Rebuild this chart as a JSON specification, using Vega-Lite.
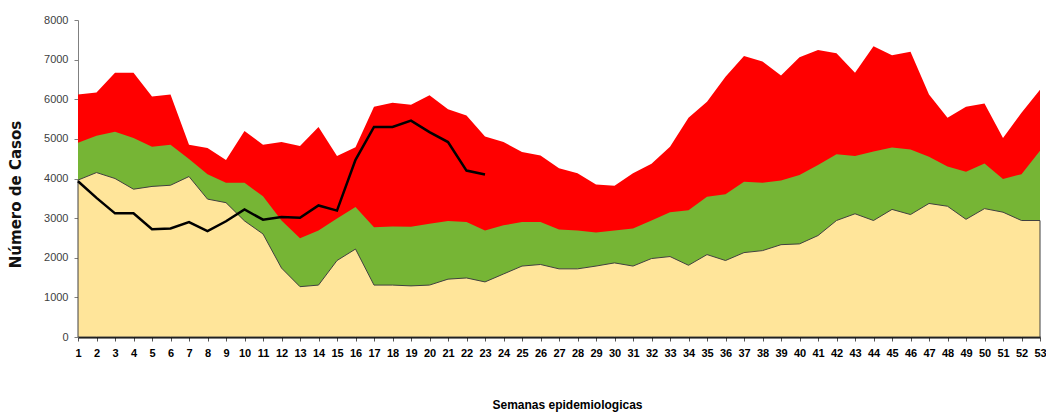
{
  "$schema": "https://vega.github.io/schema/vega-lite/v6.json",
  "width": 962,
  "height": 317,
  "autosize": {"type": "none"},
  "padding": {"left": 78, "top": 20, "right": 6, "bottom": 80},
  "background": "white",
  "config": {
    "view": {"stroke": null},
    "axisY": {
      "labelOverlap": false,
      "grid": false,
      "domainColor": "#808080", "domainWidth": 1,
      "tickColor": "#808080", "tickSize": 4,
      "labelFont": "Liberation Sans", "labelFontSize": 11, "labelColor": "#404040", "labelPadding": 6,
      "titleFont": "DejaVu Sans", "titleFontWeight": "bold", "titleFontSize": 15, "titleColor": "#111111",
      "titleX": -63, "titleY": 174, "titleAngle": -90, "titleAlign": "center", "titleBaseline": "middle"
    }
  },
  "data": {"values": [
    {"week": 1, "q1": 3960, "med": 4900, "q3": 6120, "cases": 3930},
    {"week": 2, "q1": 4150, "med": 5080, "q3": 6170, "cases": 3510},
    {"week": 3, "q1": 4000, "med": 5180, "q3": 6670, "cases": 3120},
    {"week": 4, "q1": 3730, "med": 5020, "q3": 6670, "cases": 3120},
    {"week": 5, "q1": 3800, "med": 4800, "q3": 6070, "cases": 2720},
    {"week": 6, "q1": 3830, "med": 4850, "q3": 6120, "cases": 2740},
    {"week": 7, "q1": 4050, "med": 4490, "q3": 4850, "cases": 2900},
    {"week": 8, "q1": 3480, "med": 4110, "q3": 4770, "cases": 2670},
    {"week": 9, "q1": 3390, "med": 3890, "q3": 4470, "cases": 2920},
    {"week": 10, "q1": 2930, "med": 3890, "q3": 5200, "cases": 3220},
    {"week": 11, "q1": 2600, "med": 3550, "q3": 4850, "cases": 2960},
    {"week": 12, "q1": 1740, "med": 2940, "q3": 4920, "cases": 3030},
    {"week": 13, "q1": 1270, "med": 2490, "q3": 4820, "cases": 3010},
    {"week": 14, "q1": 1310, "med": 2690, "q3": 5300, "cases": 3320},
    {"week": 15, "q1": 1930, "med": 2990, "q3": 4570, "cases": 3190},
    {"week": 16, "q1": 2220, "med": 3280, "q3": 4790, "cases": 4470},
    {"week": 17, "q1": 1310, "med": 2770, "q3": 5810, "cases": 5300},
    {"week": 18, "q1": 1310, "med": 2790, "q3": 5910, "cases": 5300},
    {"week": 19, "q1": 1290, "med": 2780, "q3": 5860, "cases": 5460},
    {"week": 20, "q1": 1310, "med": 2860, "q3": 6100, "cases": 5170},
    {"week": 21, "q1": 1460, "med": 2930, "q3": 5750, "cases": 4920},
    {"week": 22, "q1": 1490, "med": 2900, "q3": 5590, "cases": 4200},
    {"week": 23, "q1": 1390, "med": 2690, "q3": 5060, "cases": 4100},
    {"week": 24, "q1": 1590, "med": 2820, "q3": 4920, "cases": null},
    {"week": 25, "q1": 1790, "med": 2900, "q3": 4670, "cases": null},
    {"week": 26, "q1": 1830, "med": 2900, "q3": 4580, "cases": null},
    {"week": 27, "q1": 1720, "med": 2710, "q3": 4260, "cases": null},
    {"week": 28, "q1": 1720, "med": 2690, "q3": 4130, "cases": null},
    {"week": 29, "q1": 1790, "med": 2640, "q3": 3850, "cases": null},
    {"week": 30, "q1": 1870, "med": 2690, "q3": 3820, "cases": null},
    {"week": 31, "q1": 1790, "med": 2740, "q3": 4130, "cases": null},
    {"week": 32, "q1": 1980, "med": 2940, "q3": 4370, "cases": null},
    {"week": 33, "q1": 2030, "med": 3150, "q3": 4800, "cases": null},
    {"week": 34, "q1": 1810, "med": 3200, "q3": 5530, "cases": null},
    {"week": 35, "q1": 2080, "med": 3540, "q3": 5940, "cases": null},
    {"week": 36, "q1": 1930, "med": 3600, "q3": 6570, "cases": null},
    {"week": 37, "q1": 2130, "med": 3920, "q3": 7090, "cases": null},
    {"week": 38, "q1": 2180, "med": 3890, "q3": 6950, "cases": null},
    {"week": 39, "q1": 2330, "med": 3950, "q3": 6600, "cases": null},
    {"week": 40, "q1": 2350, "med": 4090, "q3": 7060, "cases": null},
    {"week": 41, "q1": 2560, "med": 4340, "q3": 7240, "cases": null},
    {"week": 42, "q1": 2940, "med": 4610, "q3": 7160, "cases": null},
    {"week": 43, "q1": 3110, "med": 4570, "q3": 6670, "cases": null},
    {"week": 44, "q1": 2940, "med": 4680, "q3": 7340, "cases": null},
    {"week": 45, "q1": 3220, "med": 4780, "q3": 7110, "cases": null},
    {"week": 46, "q1": 3090, "med": 4730, "q3": 7200, "cases": null},
    {"week": 47, "q1": 3370, "med": 4550, "q3": 6120, "cases": null},
    {"week": 48, "q1": 3300, "med": 4300, "q3": 5530, "cases": null},
    {"week": 49, "q1": 2970, "med": 4170, "q3": 5810, "cases": null},
    {"week": 50, "q1": 3240, "med": 4380, "q3": 5890, "cases": null},
    {"week": 51, "q1": 3150, "med": 3990, "q3": 5020, "cases": null},
    {"week": 52, "q1": 2940, "med": 4110, "q3": 5660, "cases": null},
    {"week": 53, "q1": 2940, "med": 4700, "q3": 6240, "cases": null}
  ]},
  "encoding": {
    "x": {
      "field": "week", "type": "quantitative",
      "scale": {"domain": [1, 53], "nice": false, "zero": false},
      "axis": {
        "title": "Semanas epidemiologicas",
        "values": [1,2,3,4,5,6,7,8,9,10,11,12,13,14,15,16,17,18,19,20,21,22,23,24,25,26,27,28,29,30,31,32,33,34,35,36,37,38,39,40,41,42,43,44,45,46,47,48,49,50,51,52,53],
        "format": "d",
        "grid": false,
        "domainColor": "#000000", "domainWidth": 2,
        "tickColor": "#555555", "tickSize": 4,
        "labelFont": "Liberation Sans", "labelFontWeight": "bold", "labelFontSize": 11, "labelColor": "#000000",
        "labelPadding": 6, "labelFlush": false, "labelOverlap": false,
        "titleFont": "Liberation Sans", "titleFontWeight": "bold", "titleFontSize": 12, "titleColor": "#000000",
        "titleX": 489, "titleY": 62, "titleBaseline": "top"
      }
    }
  },
  "layer": [
    {
      "mark": {"type": "area", "color": "#FF0000", "opacity": 1},
      "encoding": {
        "y": {
          "field": "q3", "type": "quantitative",
          "scale": {"domain": [0, 8000], "nice": false},
          "axis": {"title": "Número de Casos", "values": [0,1000,2000,3000,4000,5000,6000,7000,8000], "format": "d"}
        }
      }
    },
    {
      "mark": {"type": "area", "color": "#76B535", "opacity": 1},
      "encoding": {"y": {"field": "med", "type": "quantitative",
        "axis": {"title": "Número de Casos", "values": [0,1000,2000,3000,4000,5000,6000,7000,8000], "format": "d"}}}
    },
    {
      "mark": {"type": "area", "color": "#FFE59A", "opacity": 1, "stroke": "#404040", "strokeWidth": 1},
      "encoding": {"y": {"field": "q1", "type": "quantitative",
        "axis": {"title": "Número de Casos", "values": [0,1000,2000,3000,4000,5000,6000,7000,8000], "format": "d"}}}
    },
    {
      "transform": [{"filter": "isValid(datum.cases)"}],
      "mark": {"type": "line", "color": "#000000", "strokeWidth": 2.5},
      "encoding": {"y": {"field": "cases", "type": "quantitative",
        "axis": {"title": "Número de Casos", "values": [0,1000,2000,3000,4000,5000,6000,7000,8000], "format": "d"}}}
    }
  ]
}
